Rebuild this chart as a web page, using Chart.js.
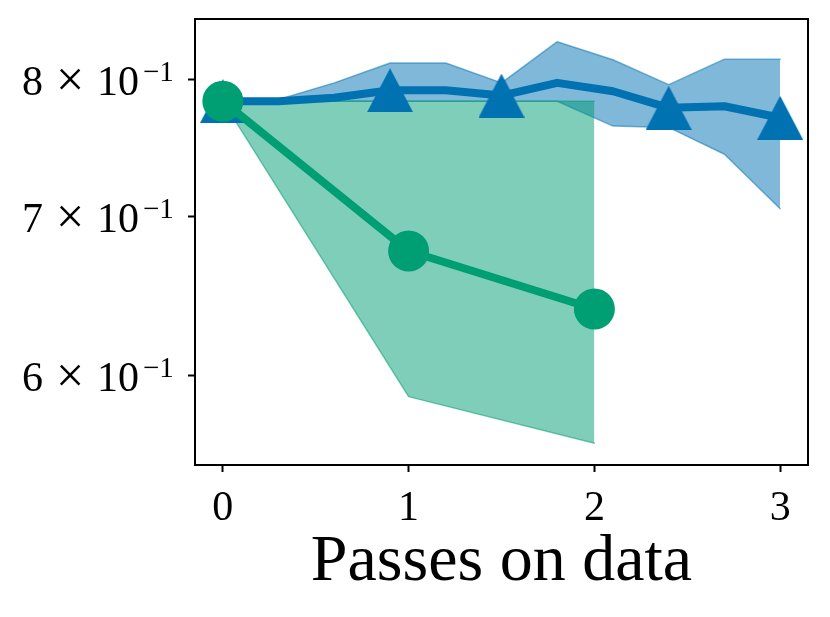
<!DOCTYPE html>
<html>
<head>
<meta charset="utf-8">
<script src="https://cdn.jsdelivr.net/npm/chart.js@4.4.1/dist/chart.umd.min.js"></script>
<style>
    body { margin: 0; background: #fff; }
    canvas { display: block; }
</style>
</head>
<body>
<canvas id="passes" width="830" height="617"></canvas>
<script>

// Data Storage {

    // Blue run (triangles) {

        const xb = [0, 0.3, 0.6, 0.9, 1.2, 1.5, 1.8, 2.1, 2.4, 2.7, 3.0];
        const mb = [0.7834, 0.7834, 0.7860, 0.7918, 0.7918, 0.7877, 0.7975, 0.7910, 0.7784, 0.7796, 0.7709];
        const ub = [0.7834, 0.7847, 0.7975, 0.8130, 0.8130, 0.7975, 0.8301, 0.8156, 0.7961, 0.8161, 0.8161];
        const lb = [0.7834, 0.7834, 0.7834, 0.7834, 0.7834, 0.7834, 0.7834, 0.7647, 0.7637, 0.7440, 0.7056];
        const kb = [true, false, false, true, false, true, false, false, true, false, true];

    // };

    // Green run (circles) {

        const xg = [0, 1, 2];
        const mg = [0.7834, 0.6772, 0.6401];
        const ug = [0.7834, 0.7834, 0.7834];
        const lg = [0.7834, 0.5878, 0.5618];

    // };

    // Axes {

        const xt = [0, 1, 2, 3];
        const yt = [0.6, 0.7, 0.8];
        const xr = [-0.15, 3.15];
        const yr = [0.5516, 0.8486];
        const xl = 'Passes on data';

    // };

// };

// Helpers {

    const blue = '#0072B2';
    const green = '#009E73';
    const serif = '"Liberation Serif", "DejaVu Serif", serif';

    const pts = (xs, ys) => xs.map((x, i) => ({ x: x, y: ys[i] }));

    // matplotlib style "^" marker, centred on its box
    const tri = document.createElement('canvas');
    tri.width = 46;
    tri.height = 44;
    const tc = tri.getContext('2d');
    tc.fillStyle = blue;
    tc.beginPath();
    tc.moveTo(23, 0);
    tc.lineTo(46, 44);
    tc.lineTo(0, 44);
    tc.closePath();
    tc.fill();

    const band = (xs, ys, col, fill, order) => ({
        data: pts(xs, ys),
        borderColor: col,
        backgroundColor: col,
        borderWidth: 1.5,
        pointRadius: 0,
        tension: 0,
        fill: fill,
        order: order
    });

// };

// Plugins {

    // box around the axes + y labels like 8 x 10^-1
    const frame = {
        id: 'frame',
        afterDraw(chart) {
            const c = chart.ctx;
            const a = chart.chartArea;
            const ys = chart.scales.y;
            c.save();
            c.strokeStyle = '#000';
            c.lineWidth = 2;
            c.strokeRect(a.left, a.top, a.right - a.left, a.bottom - a.top);

            c.fillStyle = '#000';
            c.textBaseline = 'alphabetic';
            yt.forEach(v => {
                const py = ys.getPixelForValue(v);
                const r = a.left - 17;
                c.font = '29px ' + serif;
                c.textAlign = 'left';
                c.fillText('\u22121', r - 35, py + 1);
                c.font = '42px ' + serif;
                c.textAlign = 'right';
                c.fillText('10', r - 39, py + 15);
                c.font = '50px ' + serif;
                c.textAlign = 'center';
                c.fillText('\u00d7', r - 108, py + 16);
                c.font = '42px ' + serif;
                c.textAlign = 'right';
                c.fillText(String(Math.round(v * 10)), r - 135, py + 15);
            });
            c.restore();
        }
    };

// };

// Chart Function {

    const cp = document.getElementById('passes').getContext('2d');

    const chart = new Chart(cp, {
        type: 'line',
        data: {
            datasets: [
                band(xb, ub, 'rgba(0, 114, 178, 0.5)', '+1', 3),
                band(xb, lb, 'rgba(0, 114, 178, 0.5)', false, 3),
                band(xg, ug, 'rgba(0, 158, 115, 0.5)', '+1', 2),
                band(xg, lg, 'rgba(0, 158, 115, 0.5)', false, 2),
                {
                    data: pts(xb, mb),
                    borderColor: blue,
                    backgroundColor: blue,
                    borderWidth: 8,
                    tension: 0,
                    pointStyle: tri,
                    pointRadius: kb.map(k => k ? 22 : 0),
                    fill: false,
                    clip: false,
                    order: 1
                },
                {
                    data: pts(xg, mg),
                    borderColor: green,
                    backgroundColor: green,
                    borderWidth: 8,
                    tension: 0,
                    pointStyle: 'circle',
                    pointRadius: 20.5,
                    pointBorderWidth: 0,
                    fill: false,
                    clip: false,
                    order: 0
                }
            ]
        },
        options: {
            responsive: false,
            animation: false,
            devicePixelRatio: 1,
            layout: {
                autoPadding: false,
                padding: { left: 0, right: 22, top: 19, bottom: 0 }
            },
            plugins: {
                legend: { display: false },
                tooltip: { enabled: false }
            },
            elements: { line: { borderJoinStyle: 'round', borderCapStyle: 'round' } },
            scales: {
                x: {
                    type: 'linear',
                    min: xr[0],
                    max: xr[1],
                    afterBuildTicks: s => { s.ticks = xt.map(v => ({ value: v })); },
                    afterFit: s => { s.height = 152; },
                    grid: {
                        display: true,
                        drawOnChartArea: false,
                        drawTicks: true,
                        tickLength: 7,
                        tickWidth: 2,
                        tickColor: '#000'
                    },
                    border: { display: false },
                    ticks: {
                        color: '#000',
                        padding: 12,
                        maxRotation: 0,
                        font: { family: serif, size: 42 },
                        callback: v => String(v)
                    },
                    title: {
                        display: true,
                        text: xl,
                        color: '#000',
                        font: { family: serif, size: 66, lineHeight: 1 },
                        padding: { top: 0, bottom: 21 }
                    }
                },
                y: {
                    type: 'logarithmic',
                    min: yr[0],
                    max: yr[1],
                    afterBuildTicks: s => { s.ticks = yt.map(v => ({ value: v })); },
                    afterFit: s => { s.width = 195; },
                    grid: {
                        display: true,
                        drawOnChartArea: false,
                        drawTicks: true,
                        tickLength: 7,
                        tickWidth: 2,
                        tickColor: '#000'
                    },
                    border: { display: false },
                    ticks: { font: { size: 1 }, padding: 0, callback: () => '' }
                }
            }
        },
        plugins: [frame]
    });

// };

</script>
</body>
</html>
